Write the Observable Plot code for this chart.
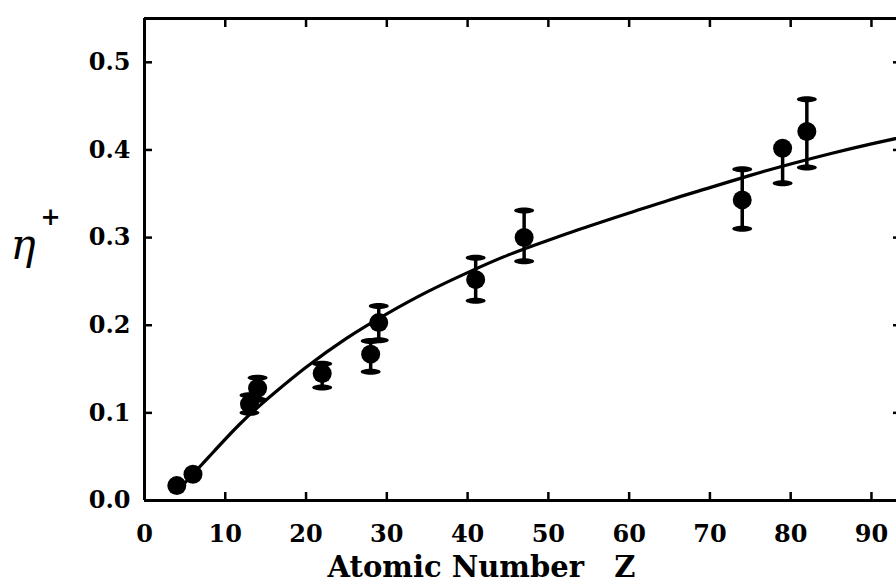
<!DOCTYPE html>
<html>
<head>
<meta charset="utf-8">
<script src="https://cdn.jsdelivr.net/npm/d3@7"></script>
<script src="https://cdn.jsdelivr.net/npm/@observablehq/plot@0.6"></script>
<style>
  html, body { margin: 0; padding: 0; background: #fff; overflow: hidden; width: 896px; height: 585px; }
  #chart svg { display: block; max-width: none !important; }
</style>
</head>
<body>
<div id="chart"></div>
<script>
// Measured points (atomic number Z, eta+)
const Z   = [4, 6, 13, 14, 22, 28, 29, 41, 47, 74, 79, 82];
const eta = [0.017, 0.030, 0.110, 0.128, 0.145, 0.167, 0.203, 0.252, 0.300, 0.343, 0.402, 0.421];
const errLo = [null, null, 0.100, 0.115, 0.129, 0.147, 0.183, 0.228, 0.273, 0.310, 0.362, 0.380];
const errHi = [null, null, 0.120, 0.140, 0.156, 0.182, 0.222, 0.277, 0.331, 0.378, null, 0.458];

// Fitted curve
const fitZ   = [5, 8, 12, 16, 20, 25, 30, 35, 40, 45, 50, 55, 60, 65, 70, 75, 80, 85, 90, 95];
const fitEta = [0.020, 0.050, 0.089, 0.122, 0.152, 0.185, 0.213, 0.238, 0.260, 0.280, 0.297, 0.313, 0.328, 0.343, 0.357, 0.371, 0.384, 0.396, 0.407, 0.417];

const xTicks = [0, 10, 20, 30, 40, 50, 60, 70, 80, 90];
const yTicks = [0.0, 0.1, 0.2, 0.3, 0.4, 0.5];
const xDomain = [0, 93.1];
const yDomain = [0, 0.55];
const xLabel = "Atomic Number   Z";

const points = Z.map((z, i) => ({z, eta: eta[i], lo: errLo[i], hi: errHi[i]}));
const bars = points.filter(d => d.lo != null);
const loCaps = points.filter(d => d.lo != null);
const hiCaps = points.filter(d => d.hi != null);
const fit = fitZ.map((z, i) => ({z, eta: fitEta[i]}));

const capSymbol = {
  draw(ctx) {
    const rx = 10, ry = 3, k = 0.5523;
    ctx.moveTo(rx, 0);
    ctx.bezierCurveTo(rx, ry * k, rx * k, ry, 0, ry);
    ctx.bezierCurveTo(-rx * k, ry, -rx, ry * k, -rx, 0);
    ctx.bezierCurveTo(-rx, -ry * k, -rx * k, -ry, 0, -ry);
    ctx.bezierCurveTo(rx * k, -ry, rx, -ry * k, rx, 0);
    ctx.closePath();
  }
};

const font = "'DejaVu Serif', serif";

const chart = Plot.plot({
  width: 896,
  height: 585,
  marginLeft: 144,
  marginRight: 0,
  marginTop: 18,
  marginBottom: 85,
  style: {fontFamily: font, fontWeight: "bold", fontSize: "24px", color: "#000", background: "#fff", maxWidth: "none", overflow: "visible"},
  x: {domain: xDomain, label: null},
  y: {domain: yDomain, label: null},
  marks: [
    Plot.ruleX([xDomain[0]], {stroke: "#000", strokeWidth: 3}),
    Plot.ruleY(yDomain, {stroke: "#000", strokeWidth: 3}),
    Plot.axisX({anchor: "bottom", ticks: xTicks, tickSize: -8, tickPadding: 32, tickFormat: d3.format("d"), strokeWidth: 2.5, fontWeight: "bold", fontSize: 24}),
    Plot.axisX({anchor: "top", ticks: xTicks, tickSize: -8, tickFormat: () => "", strokeWidth: 2.5}),
    Plot.axisY({anchor: "left", ticks: yTicks, tickSize: -8, tickPadding: 22, tickFormat: d3.format(".1f"), strokeWidth: 2.5, fontWeight: "bold", fontSize: 24}),
    Plot.axisY({anchor: "right", ticks: yTicks, tickSize: -4, tickFormat: () => "", strokeWidth: 2.5}),
    Plot.line(fit, {x: "z", y: "eta", curve: "natural", stroke: "#000", strokeWidth: 3.2}),
    Plot.ruleX(bars, {x: "z", y1: "lo", y2: d => d.hi ?? d.eta, stroke: "#000", strokeWidth: 3.5}),
    Plot.dot(loCaps, {x: "z", y: "lo", symbol: capSymbol, fill: "#000", stroke: "none"}),
    Plot.dot(hiCaps, {x: "z", y: "hi", symbol: capSymbol, fill: "#000", stroke: "none"}),
    Plot.dot(points, {x: "z", y: "eta", r: 9.5, fill: "#000", stroke: "none"}),
    Plot.text([xLabel], {frameAnchor: "bottom", lineAnchor: "middle", textAnchor: "middle", dx: -39, dy: 67, text: d => d, fontSize: 29, fontWeight: "bold", fontFamily: font, fill: "#000"}),
    Plot.text(["η"], {frameAnchor: "left", dx: -134, dy: -14, text: d => d, fontSize: 42, fontStyle: "italic", fontFamily: font, fontWeight: "normal", fill: "#000"}),
    Plot.text(["+"], {frameAnchor: "left", dx: -104, dy: -42, text: d => d, fontSize: 24, fontFamily: font, fontWeight: "bold", fill: "#000"})
  ]
});
document.getElementById("chart").appendChild(chart);
</script>
</body>
</html>
